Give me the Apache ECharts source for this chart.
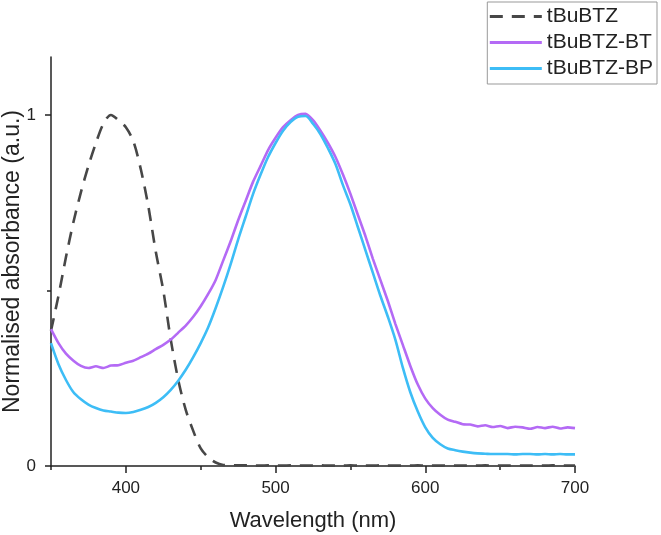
<!DOCTYPE html>
<html>
<head>
<meta charset="utf-8">
<script src="https://cdn.jsdelivr.net/npm/echarts@6/dist/echarts.min.js"></script>
<style>
  html, body { margin: 0; padding: 0; background: #fff; }
  #chart { width: 661px; height: 535px; }
</style>
</head>
<body>
<div id="chart"></div>
<script>
// wavelength (nm), 5 nm steps
const wavelengths = [];
for (let w = 350; w <= 700; w += 5) wavelengths.push(w);

const seriesNames = ['tBuBTZ', 'tBuBTZ-BT', 'tBuBTZ-BP'];

// tBuBTZ (dashed)
const tBuBTZ = [
  0.385, 0.485, 0.595, 0.695, 0.78, 0.855, 0.92, 0.975, 1.0, 0.985,
  0.965, 0.925, 0.845, 0.74, 0.61, 0.50, 0.36, 0.245, 0.16, 0.10,
  0.05, 0.025, 0.01, 0.003, 0.002, 0.002, 0.002, 0.001, 0.001, 0.002,
  0.001, 0.001, 0.002, 0.001, 0.001, 0.001, 0.002, 0.001, 0.001, 0.001,
  0.002, 0.001, 0.001, 0.001, 0.002, 0.001, 0.001, 0.001, 0.001, 0.002,
  0.001, 0.001, 0.001, 0.002, 0.001, 0.001, 0.001, 0.001, 0.002, 0.001,
  0.001, 0.001, 0.002, 0.001, 0.001, 0.001, 0.001, 0.002, 0.001, 0.001,
  0.001
];

// tBuBTZ-BT (purple)
const tBuBTZ_BT = [
  0.39, 0.35, 0.32, 0.30, 0.285, 0.279, 0.284, 0.279, 0.286, 0.287,
  0.294, 0.30, 0.31, 0.32, 0.333, 0.345, 0.36, 0.38, 0.40, 0.425,
  0.455, 0.49, 0.53, 0.585, 0.64, 0.70, 0.755, 0.81, 0.855, 0.90,
  0.935, 0.965, 0.985, 1.0, 1.003, 0.985, 0.955, 0.92, 0.88, 0.83,
  0.775, 0.715, 0.655, 0.59, 0.53, 0.47, 0.405, 0.345, 0.285, 0.232,
  0.192, 0.165, 0.146, 0.132, 0.126, 0.119, 0.118, 0.113, 0.116, 0.111,
  0.114, 0.108, 0.112, 0.110, 0.106, 0.111, 0.108, 0.112, 0.107, 0.110,
  0.108
];

// tBuBTZ-BP (blue)
const tBuBTZ_BP = [
  0.35, 0.29, 0.245, 0.21, 0.19, 0.175, 0.165, 0.158, 0.155, 0.152,
  0.151, 0.154, 0.16, 0.168, 0.18, 0.196, 0.217, 0.243, 0.274, 0.31,
  0.35, 0.395, 0.45, 0.51, 0.575, 0.645, 0.71, 0.775, 0.83, 0.88,
  0.92, 0.955, 0.98, 0.995, 0.997, 0.975, 0.945, 0.905, 0.86, 0.80,
  0.745, 0.68, 0.615, 0.55, 0.485, 0.425, 0.36, 0.28, 0.21, 0.155,
  0.11, 0.08, 0.062, 0.05, 0.045, 0.041, 0.038, 0.036, 0.035, 0.034,
  0.034, 0.034, 0.033, 0.034, 0.034, 0.033, 0.034, 0.033, 0.034, 0.033,
  0.033
];

const xMajorTicks = [400, 500, 600, 700];
const xMinorTicks = [350, 450, 550, 650];
const yMajorTicks = [0, 1];
const yMinorTicks = [0.5];

const pair = arr => wavelengths.map((w, i) => [w, arr[i]]);

const font = 'Liberation Sans, Arial, sans-serif';
const chart = echarts.init(document.getElementById('chart'));

chart.setOption({
  animation: false,
  backgroundColor: '#fff',
  textStyle: { fontFamily: font },
  grid: { left: 51, right: 86, top: 57, bottom: 69, outerBoundsMode: 'none', containLabel: false },
  legend: {
    orient: 'vertical',
    right: 4,
    top: 2,
    itemWidth: 52,
    itemHeight: 14,
    itemGap: 5,
    padding: [4, 4, 5, 1],
    borderColor: '#999',
    borderWidth: 1,
    itemStyle: { opacity: 0 },
    lineStyle: { width: 3 },
    textStyle: { fontSize: 21, color: '#222', fontFamily: font },
    data: seriesNames
  },
  xAxis: [
    {
      type: 'value',
      min: 350,
      max: 700,
      name: 'Wavelength (nm)',
      nameLocation: 'middle',
      nameGap: 44,
      nameMoveOverlap: false,
      nameTextStyle: { fontSize: 22, color: '#222', fontFamily: font },
      axisLine: { lineStyle: { color: '#222', width: 1.5 } },
      axisTick: { customValues: xMajorTicks, length: 7, lineStyle: { color: '#222', width: 1.5 } },
      axisLabel: { customValues: xMajorTicks, fontSize: 17, color: '#222', margin: 14 },
      splitLine: { show: false }
    },
    {
      type: 'value',
      min: 350,
      max: 700,
      position: 'bottom',
      axisLine: { show: false },
      axisTick: { customValues: xMinorTicks, length: 4, lineStyle: { color: '#222', width: 1.5 } },
      axisLabel: { show: false },
      splitLine: { show: false }
    }
  ],
  yAxis: [
    {
      type: 'value',
      min: 0,
      max: 1.165,
      name: 'Normalised absorbance (a.u.)',
      nameLocation: 'middle',
      nameGap: 27,
      nameMoveOverlap: false,
      nameTextStyle: { fontSize: 23, color: '#222', fontFamily: font },
      axisLine: { show: true, lineStyle: { color: '#222', width: 1.5 } },
      axisTick: { show: true, customValues: yMajorTicks, length: 6, lineStyle: { color: '#222', width: 1.5 } },
      axisLabel: { customValues: yMajorTicks, fontSize: 17, color: '#222', margin: 15 },
      splitLine: { show: false }
    },
    {
      type: 'value',
      min: 0,
      max: 1.165,
      position: 'left',
      axisLine: { show: false },
      axisTick: { show: true, customValues: yMinorTicks, length: 4, lineStyle: { color: '#222', width: 1.5 } },
      axisLabel: { show: false },
      splitLine: { show: false }
    }
  ],
  series: [
    {
      name: 'tBuBTZ',
      type: 'line',
      data: pair(tBuBTZ),
      symbol: 'none',
      smooth: 0.3,
      z: 3,
      lineStyle: { color: '#474747', width: 2.6, type: [13, 9] },
      itemStyle: { color: '#474747' }
    },
    {
      name: 'tBuBTZ-BT',
      type: 'line',
      data: pair(tBuBTZ_BT),
      symbol: 'none',
      smooth: 0.2,
      lineStyle: { color: '#b46af5', width: 2.6 },
      itemStyle: { color: '#b46af5' }
    },
    {
      name: 'tBuBTZ-BP',
      type: 'line',
      data: pair(tBuBTZ_BP),
      symbol: 'none',
      smooth: 0.3,
      lineStyle: { color: '#3dbdf6', width: 2.6 },
      itemStyle: { color: '#3dbdf6' }
    }
  ]
});
</script>
</body>
</html>
